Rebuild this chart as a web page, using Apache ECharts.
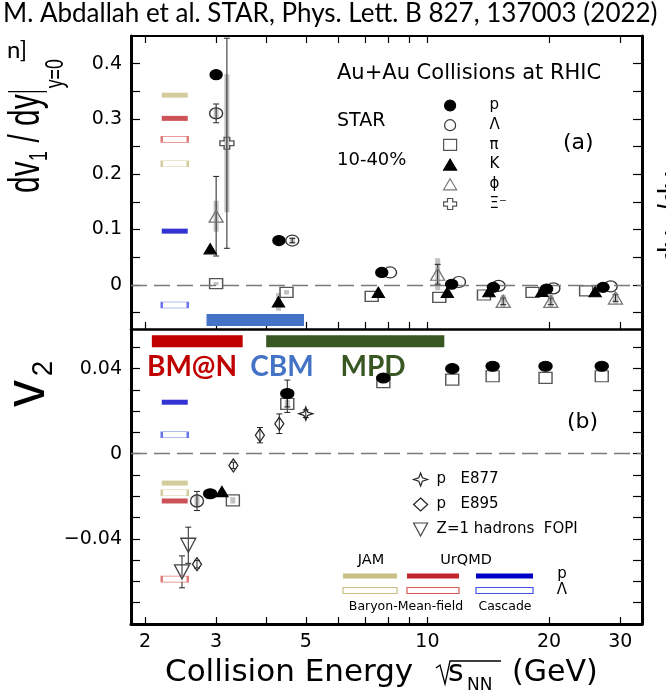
<!DOCTYPE html>
<html>
<head>
<meta charset="utf-8">
<title>STAR dv1/dy and v2 vs collision energy</title>
<script src="https://cdn.jsdelivr.net/npm/echarts@6/dist/echarts.min.js"></script>
<style>
html, body { margin: 0; padding: 0; background: #fff; }
#main { width: 666px; height: 698px; }
</style>
</head>
<body>
<div id="main"></div>
<script>
// energies in GeV
const xMin = 1.847, xMax = 33.96;
const xTicks = [2, 3, 4, 5, 6, 7, 8, 9, 10, 20, 30];
const xLabels = [2, 3, 5, 10, 20, 30];
const v1Ticks = [-0.05, 0, 0.05, 0.1, 0.15, 0.2, 0.25, 0.3, 0.35, 0.4];
const v1Labels = [0, 0.1, 0.2, 0.3, 0.4];
const v2Ticks = [-0.07, -0.06, -0.05, -0.04, -0.03, -0.02, -0.01, 0, 0.01, 0.02, 0.03, 0.04, 0.05];
const v2Labels = [-0.04, 0, 0.04];

// (a) dv1/dy at y=0
const pTopE = [3.0, 4.29, 7.71, 11.48, 14.56, 19.72, 27.2];
const pTopV = [0.380, 0.080, 0.0223, 0.001, -0.0047, -0.0077, -0.0047];
const lamTopE = [3.0, 4.63, 8.08, 11.97, 15.0, 20.5, 28.4];
const lamTopV = [0.310, 0.080, 0.0223, 0.005, -0.002, -0.0065, -0.003];
const lamTopStat = [0.017, 0.004, 0, 0, 0, 0, 0];
const lamTopSys = [0.010, 0.006, 0, 0, 0, 0, 0];
const piTopE = [3.0, 4.48, 7.28, 10.7, 13.8, 18.2, 24.7];
const piTopV = [0.002, -0.0137, -0.021, -0.0227, -0.0185, -0.0137, -0.011];
const piTopSys = [0.003, 0.004, 0, 0, 0, 0, 0];
const kTopE = [2.90, 4.28, 7.56, 11.2, 14.2, 19.2, 26.0];
const kTopV = [0.065, -0.031, -0.0137, -0.0137, -0.0126, -0.012, -0.0126];
const kTopSys = [0, 0.016, 0, 0, 0, 0, 0];
const phiTopE = [3.0, 10.6, 15.4, 20.2, 29.2];
const phiTopV = [0.124, 0.019, -0.030, -0.030, -0.024];
const phiTopStat = [0.072, 0.018, 0.006, 0.006, 0.006];
const phiTopSys = [0.028, 0.029, 0.012, 0.012, 0.010];
const xiTopE = [3.19];
const xiTopV = [0.256];
const xiTopStat = [0.19];
const xiTopSys = [0.125];

// (b) v2
const pBotE = [2.90, 4.50, 7.78, 11.52, 14.5, 19.6, 27.0];
const pBotV = [-0.0188, 0.0283, 0.0356, 0.040, 0.0411, 0.0411, 0.0411];
const pBotStat = [0, 0.0063, 0, 0, 0, 0, 0];
const lamBotE = [2.69];
const lamBotV = [-0.0222];
const lamBotStat = [0.0045];
const lamBotSys = [0.003];
const kBotE = [3.10];
const kBotV = [-0.0178];
const piBotE = [3.30, 4.50, 7.78, 11.52, 14.5, 19.6, 27.0];
const piBotV = [-0.0219, 0.0234, 0.0336, 0.0348, 0.0364, 0.0356, 0.0364];
const piBotStat = [0, 0.004, 0, 0, 0, 0, 0];
const piBotSys = [0.0015, 0.002, 0, 0, 0, 0, 0];
const e877E = [5.0];
const e877V = [0.0188];
const e877Err = [0.0018];
const e895E = [2.69, 3.31, 3.85, 4.30];
const e895V = [-0.0519, -0.0055, 0.0087, 0.0141];
const e895Err = [0.0018, 0.0015, 0.0036, 0.0046];
const fopiE = [2.56, 2.47];
const fopiV = [-0.0430, -0.0555];
const fopiErr = [0.0085, 0.0075];

// model expectations, drawn as short bars at one energy
const modelE = 2.37;
const modelNames = ['JAM p', 'JAM Λ', 'UrQMD p', 'UrQMD Λ', 'Cascade p', 'Cascade Λ'];
const modelTopV = [0.343, 0.219, 0.301, 0.263, 0.097, -0.0365];
const modelBotV = [-0.0138, -0.0183, -0.0222, -0.0589, 0.0242, 0.0089];

// facility energy ranges
const bmnRange = [2.08, 3.49];
const cbmRange = [2.84, 4.95];
const mpdRange = [3.99, 11.01];
const cbmLevel = -0.0635;
const bmnLevel = 0.0528;

const lg = Math.log10;
const ff = 'DejaVu Sans';
const modelColor = ['#C9BF85', '#C9BF85', '#C1272D', '#DA5A55', '#0000C8', '#4352E6'];
const modelOpen = [false, true, false, true, false, true];

const errRows = (E, V, err) => E.map((e, i) => [lg(e), V[i] - err[i], V[i] + err[i]]).filter((d, i) => err[i] > 0);

function statBar(params, api) {
  const x = api.value(0);
  const lo = api.coord([x, api.value(1)]);
  const hi = api.coord([x, api.value(2)]);
  const c = 3, st = {stroke: '#222', lineWidth: 1};
  return {type: 'group', children: [
    {type: 'line', shape: {x1: lo[0], y1: lo[1], x2: hi[0], y2: hi[1]}, style: st},
    {type: 'line', shape: {x1: lo[0] - c, y1: lo[1], x2: lo[0] + c, y2: lo[1]}, style: st},
    {type: 'line', shape: {x1: hi[0] - c, y1: hi[1], x2: hi[0] + c, y2: hi[1]}, style: st}
  ]};
}
function sysBar(params, api) {
  const x = api.value(0);
  const lo = api.coord([x, api.value(1)]);
  const hi = api.coord([x, api.value(2)]);
  return {type: 'rect', shape: {x: lo[0] - 2.5, y: hi[1], width: 5, height: lo[1] - hi[1]}, style: {fill: '#c2c2c2'}};
}
function errOf(rows, kind, xi, yi) {
  return {type: 'custom', xAxisIndex: xi, yAxisIndex: yi, silent: true, clip: true, z: kind === 'sys' ? 1 : 3,
    data: rows, encode: {x: 0, y: [1, 2]}, renderItem: kind === 'sys' ? sysBar : statBar};
}
function scatterOf(name, E, V, sym, size, fill, stroke, xi, yi, z) {
  return {type: 'scatter', name: name, xAxisIndex: xi, yAxisIndex: yi, z: z, silent: true,
    symbol: sym, symbolSize: size, data: E.map((e, i) => [lg(e), V[i]]),
    itemStyle: {color: fill, borderColor: stroke, borderWidth: 1.3, opacity: 1}};
}
function modelOf(V, xi, yi) {
  return {type: 'scatter', xAxisIndex: xi, yAxisIndex: yi, silent: true, symbol: 'rect', z: 3,
    data: V.map((v, i) => ({name: modelNames[i], value: [lg(modelE), v], symbolSize: modelOpen[i] ? [26, 6] : [26, 5],
      itemStyle: {color: modelOpen[i] ? '#fff' : modelColor[i], borderColor: modelColor[i], borderWidth: modelOpen[i] ? 1.2 : 0}}))};
}
function bandOf(range, level, color, xi, yi) {
  return {type: 'line', xAxisIndex: xi, yAxisIndex: yi, silent: true, symbol: 'none', z: 1,
    data: range.map(e => [lg(e), level]), lineStyle: {color: color, width: 12, cap: 'butt'}};
}
const zeroLine = {silent: true, symbol: 'none', label: {show: false},
  lineStyle: {color: '#7a7a7a', width: 1.4, type: [16, 7]}, data: [{yAxis: 0}]};

const OPEN = 'rgba(255,255,255,0)';
const XI = 'path://M3,0 H7 V3 H10 V7 H7 V10 H3 V7 H0 V3 H3 Z';
const STAR4 = 'path://M5,0 L6.3,3.7 L10,5 L6.3,6.3 L5,10 L3.7,6.3 L0,5 L3.7,3.7 Z';
const DOWN = 'path://M0,0 L10,0 L5,10 Z';

function xAxisOf(grid, pos, lineW, labels) {
  return {
    type: 'value', gridIndex: grid, position: pos, min: lg(xMin), max: lg(xMax),
    splitLine: {show: false},
    axisLine: {onZero: false, lineStyle: {color: '#000', width: lineW}},
    axisTick: {inside: true, length: 7, customValues: xTicks.map(lg), lineStyle: {color: '#000', width: 1.2}},
    axisLabel: labels ? {customValues: xLabels.map(lg), formatter: v => String(Math.round(Math.pow(10, v))),
      fontSize: 19, fontFamily: ff, color: '#000', margin: 9} : {show: false}
  };
}
function yAxisOf(grid, pos, min, max, ticks, labels) {
  return {
    type: 'value', gridIndex: grid, position: pos, min: min, max: max,
    splitLine: {show: false},
    axisLine: {onZero: false, lineStyle: {color: '#000', width: 3}},
    axisTick: {inside: true, length: 9, customValues: ticks, lineStyle: {color: '#000', width: 1.2}},
    axisLabel: labels ? {customValues: labels, fontSize: 19, fontFamily: ff, color: '#000', margin: 9,
      formatter: v => v === 0 ? '0' : (v < 0 ? '\u2212' : '') + Math.abs(v)} : {show: false}
  };
}

function txt(x, y, text, size, extra) {
  return {type: 'text', x: x, y: y, silent: true,
    style: Object.assign({text: text, fontSize: size, fontFamily: ff, fill: '#000', verticalAlign: 'middle'}, extra || {})};
}
const LS = 'Liberation Sans';
function rot(x, y, s, children) {
  return {type: 'group', x: x, y: y, rotation: Math.PI / 2, scaleX: s, silent: true, children: children};
}
function rt(x, y, text, size) {
  return {type: 'text', x: x, y: y, style: {text: text, fontSize: size, fontFamily: LS, fill: '#000', verticalAlign: 'top'}};
}

const graphic = [
  txt(3, 14, 'M. Abdallah et al. STAR, Phys. Lett. B 827, 137003 (2022)', 26, {fontFamily: 'Lato'}),
  txt(7, 50, 'n]', 24, {fontFamily: 'Lato'}),
  txt(337, 74, 'Au+Au Collisions at RHIC', 21),
  txt(337, 121, 'STAR', 19),
  txt(337, 160, '10-40%', 18),
  txt(563, 143, '(a)', 22),
  txt(567, 422, '(b)', 22),
  txt(192, 367, 'BM@N', 28, {fontFamily: 'Lato', fontWeight: 'bold', fill: '#C00000', align: 'center'}),
  txt(282, 367, 'CBM', 28, {fontFamily: 'Lato', fontWeight: 'bold', fill: '#4472C4', align: 'center'}),
  txt(373, 367, 'MPD', 28, {fontFamily: 'Lato', fontWeight: 'bold', fill: '#385723', align: 'center'}),
  // x axis title
  txt(165, 673, 'Collision Energy', 31),
  {type: 'polyline', silent: true, shape: {points: [[436, 668], [440, 665], [445, 684], [450, 661], [501, 661]]},
    style: {stroke: '#000', lineWidth: 1.3, fill: null}},
  txt(448, 673, 's', 30),
  txt(467, 686, 'NN', 17),
  txt(512, 673, '(GeV)', 30),
  // y axis titles
  rot(5, 193, 0.68, [
    rt(0, 0, 'dv', 44), rt(47, 22, '1', 26), rt(62, 0, ' / dy', 44),
    {type: 'line', shape: {x1: 149, y1: 3, x2: 149, y2: 42}, style: {stroke: '#000', lineWidth: 2}},
    rt(154, 38, 'y=0', 26)
  ]),
  rot(-1, 407, 0.93, [rt(0, 0, 'v', 58), rt(33, 30, '2', 30)]),
  rot(655, 263, 0.68, [rt(0, 0, 'dv', 44), rt(47, 22, '1', 26), rt(62, 0, ' /dy', 44)]),
  // model legend
  {type: 'rect', silent: true, shape: {x: 343, y: 573.5, width: 54, height: 5}, style: {fill: modelColor[0]}},
  {type: 'rect', silent: true, shape: {x: 407, y: 573.5, width: 52, height: 5}, style: {fill: modelColor[2]}},
  {type: 'rect', silent: true, shape: {x: 476, y: 573.5, width: 57, height: 5}, style: {fill: modelColor[4]}},
  {type: 'rect', silent: true, shape: {x: 343, y: 587.5, width: 54, height: 6}, style: {fill: '#fff', stroke: modelColor[1], lineWidth: 1.2}},
  {type: 'rect', silent: true, shape: {x: 407, y: 587.5, width: 52, height: 6}, style: {fill: '#fff', stroke: modelColor[3], lineWidth: 1.2}},
  {type: 'rect', silent: true, shape: {x: 476, y: 587.5, width: 57, height: 6}, style: {fill: '#fff', stroke: modelColor[5], lineWidth: 1.2}},
  txt(371, 560, 'JAM', 14.5, {align: 'center'}),
  txt(466, 560, 'UrQMD', 14.5, {align: 'center'}),
  txt(562, 574, 'p', 15, {align: 'center'}),
  txt(562, 590, 'Λ', 15, {align: 'center'}),
  txt(406, 607, 'Baryon-Mean-field', 12.5, {align: 'center'}),
  txt(505, 607, 'Cascade', 12.5, {align: 'center'})
];

const series = [
  // (a)
  errOf([].concat(errRows(lamTopE, lamTopV, lamTopSys), errRows(piTopE, piTopV, piTopSys), errRows(kTopE, kTopV, kTopSys),
    errRows(phiTopE, phiTopV, phiTopSys), errRows(xiTopE, xiTopV, xiTopSys)), 'sys', 0, 0),
  errOf([].concat(errRows(lamTopE, lamTopV, lamTopStat), errRows(phiTopE, phiTopV, phiTopStat), errRows(xiTopE, xiTopV, xiTopStat)), 'stat', 0, 0),
  bandOf(cbmRange, cbmLevel, '#4472C4', 0, 0),
  modelOf(modelTopV, 0, 0),
  Object.assign(scatterOf('π', piTopE, piTopV, 'rect', [13, 10], OPEN, '#555', 0, 0, 4), {markLine: zeroLine}),
  scatterOf('Λ', lamTopE, lamTopV, 'circle', [13, 11], OPEN, '#333', 0, 0, 4),
  scatterOf('ϕ', phiTopE, phiTopV, 'triangle', [14, 12], OPEN, '#777', 0, 0, 4),
  scatterOf('Ξ⁻', xiTopE, xiTopV, XI, [14, 12], OPEN, '#555', 0, 0, 4),
  scatterOf('K', kTopE, kTopV, 'triangle', [12, 10], '#000', '#000', 0, 0, 5),
  scatterOf('p', pTopE, pTopV, 'circle', [12, 10], '#000', '#000', 0, 0, 6),
  // (b)
  errOf([].concat(errRows(lamBotE, lamBotV, lamBotSys), errRows(piBotE, piBotV, piBotSys)), 'sys', 2, 2),
  errOf([].concat(errRows(pBotE, pBotV, pBotStat), errRows(lamBotE, lamBotV, lamBotStat), errRows(piBotE, piBotV, piBotStat),
    errRows(e877E, e877V, e877Err), errRows(e895E, e895V, e895Err), errRows(fopiE, fopiV, fopiErr)), 'stat', 2, 2),
  bandOf(bmnRange, bmnLevel, '#C00000', 2, 2),
  bandOf(mpdRange, bmnLevel, '#385723', 2, 2),
  modelOf(modelBotV, 2, 2),
  Object.assign(scatterOf('π', piBotE, piBotV, 'rect', [13, 11], OPEN, '#555', 2, 2, 4), {markLine: zeroLine}),
  scatterOf('Λ', lamBotE, lamBotV, 'circle', [13, 12], OPEN, '#333', 2, 2, 4),
  scatterOf('p   E877', e877E, e877V, STAR4, [14, 13], OPEN, '#222', 2, 2, 4),
  scatterOf('p   E895', e895E, e895V, 'diamond', [9, 13], OPEN, '#222', 2, 2, 4),
  scatterOf('Z=1 hadrons  FOPI', fopiE, fopiV, DOWN, [15, 14], OPEN, '#444', 2, 2, 4),
  scatterOf('K', kBotE, kBotV, 'triangle', [12, 10], '#000', '#000', 2, 2, 5),
  scatterOf('p', pBotE, pBotV, 'circle', [13, 10], '#000', '#000', 2, 2, 6)
];

const option = {
  animation: false,
  textStyle: {fontFamily: ff},
  grid: [
    {left: 131, right: 24, top: 36, height: 293},
    {left: 131, right: 24, top: 329, height: 295}
  ],
  xAxis: [xAxisOf(0, 'bottom', 2.5, false), xAxisOf(0, 'top', 2, false), xAxisOf(1, 'bottom', 3, true)],
  yAxis: [
    yAxisOf(0, 'left', -0.08, 0.45, v1Ticks, v1Labels),
    yAxisOf(0, 'right', -0.08, 0.45, v1Ticks, null),
    yAxisOf(1, 'left', -0.08, 0.0586, v2Ticks, v2Labels),
    yAxisOf(1, 'right', -0.08, 0.0586, v2Ticks, null)
  ],
  legend: [
    {data: ['p', 'Λ', 'π', 'K', 'ϕ', 'Ξ⁻'], orient: 'vertical', left: 438, top: 93, itemWidth: 13, itemHeight: 11,
      itemGap: 4.7, symbolKeepAspect: false, selectedMode: false, itemStyle: {borderWidth: 1.2},
      textStyle: {fontFamily: ff, fontSize: 15, color: '#000', padding: [0, 0, 0, 28]}},
    {data: ['p   E877', 'p   E895', 'Z=1 hadrons  FOPI'], orient: 'vertical', left: 408, top: 467, itemWidth: 14, itemHeight: 13,
      itemGap: 10, symbolKeepAspect: false, selectedMode: false, itemStyle: {borderWidth: 1.2},
      textStyle: {fontFamily: ff, fontSize: 15, color: '#000', padding: [0, 0, 0, 4]}}
  ],
  graphic: graphic,
  series: series
};

const chart = echarts.init(document.getElementById('main'));
chart.setOption(option);
</script>
</body>
</html>
